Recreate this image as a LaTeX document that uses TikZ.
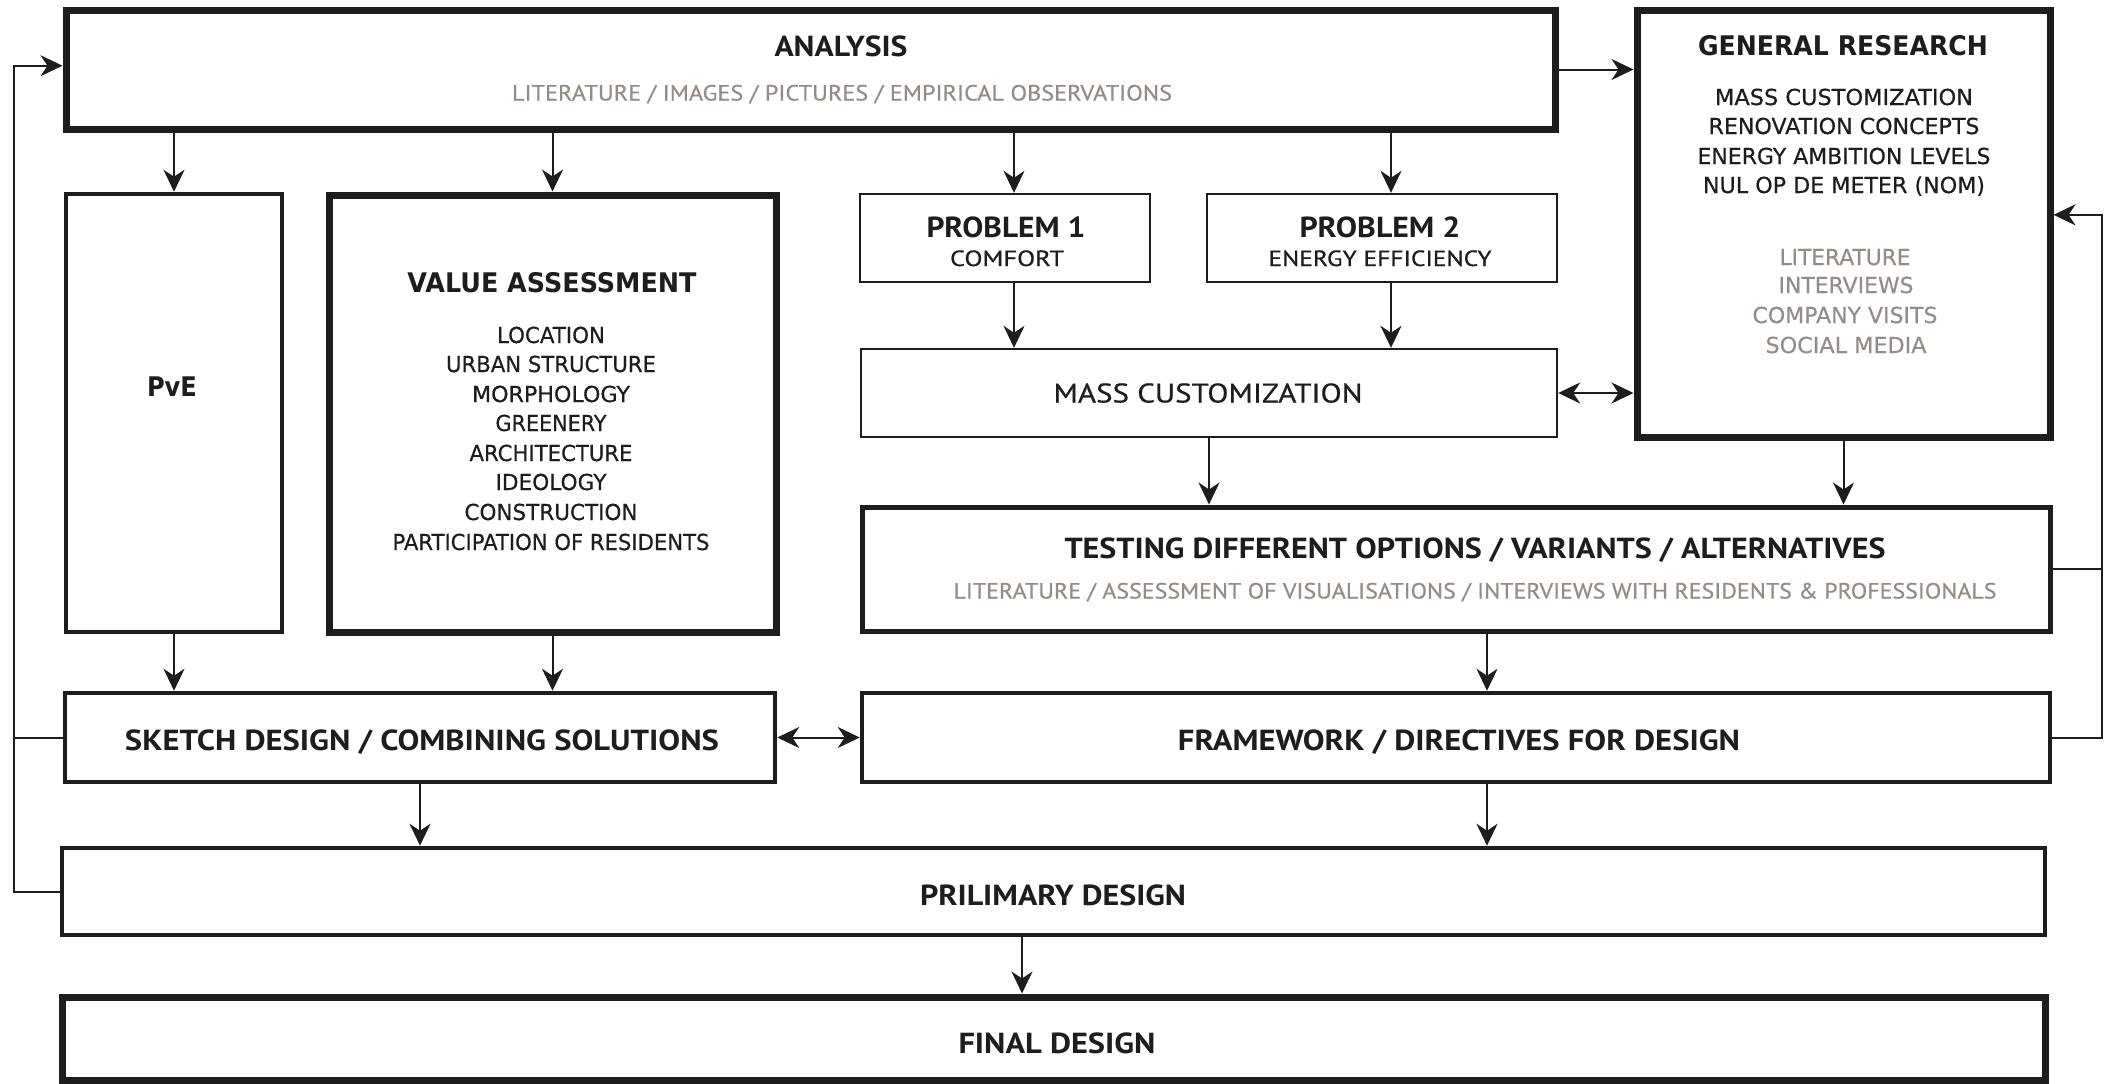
\documentclass[tikz,border=0pt]{standalone}
\usepackage{fontspec}
\usepackage{graphicx}
\usetikzlibrary{arrows.meta,calc}
\newfontfamily\myr{PT Sans}
\newfontfamily\myrn[FakeBold=0.6]{PT Sans}
\newfontfamily\dv{DejaVu Sans}
\newfontfamily\dvn[FakeBold=0.5]{DejaVu Sans}
\newcommand\fitw[2]{\resizebox{#1}{\height}{#2}}
\definecolor{ink}{RGB}{30,28,29}
\definecolor{greytx}{RGB}{150,140,135}
\tikzset{
  box/.style={draw=ink, rectangle, inner sep=0pt},
  thickbox/.style={box, line width=7pt},
  medbox/.style={box, line width=4.5pt},
  thinbox/.style={box, line width=2.4pt},
  tx/.style={inner sep=0pt, text depth=0pt, anchor=center, text=ink},
  gtx/.style={tx, text=greytx},
  myrB/.style={font=\myr\bfseries\fontsize{29}{31}\selectfont, text height=20pt},
  myrN/.style={font=\myrn\fontsize{22}{24}\selectfont, text height=15pt},
  dvB/.style={font=\dv\bfseries\fontsize{27}{30}\selectfont, text height=20pt},
  dvN/.style={font=\dvn\fontsize{22}{24}\selectfont, text height=16pt},
  tip/.tip={Stealth[length=22pt,width=21pt,inset=7pt]},
  arr/.style={draw=ink, line width=2pt, -tip},
  darr/.style={draw=ink, line width=2pt, tip-tip},
  ln/.style={draw=ink, line width=2pt},
}
\begin{document}
\begin{tikzpicture}[x=1pt,y=-1pt]
\useasboundingbox (0,0) rectangle (2104,1084);
% boxes
\node[thickbox, minimum width=1489pt, minimum height=119pt] (ana) at (810.5,69.5) {};
\node[thickbox, minimum width=413pt, minimum height=427pt] (gr) at (1843.5,223.5) {};
\node[medbox, minimum width=216pt, minimum height=438pt] (pve) at (174,413) {};
\node[thickbox, minimum width=447pt, minimum height=437pt] (val) at (552.5,413.5) {};
\node[thinbox, minimum width=290pt, minimum height=88pt] (p1) at (1005,238) {};
\node[thinbox, minimum width=350pt, minimum height=88pt] (p2) at (1382,238) {};
\node[thinbox, minimum width=696pt, minimum height=88pt] (mass) at (1209,393) {};
\node[box, line width=5pt, minimum width=1188pt, minimum height=124pt] (test) at (1456,569) {};
\node[medbox, minimum width=710pt, minimum height=89pt] (sketch) at (420,737.5) {};
\node[medbox, minimum width=1188pt, minimum height=89pt] (frame) at (1456,737.5) {};
\node[medbox, minimum width=1983pt, minimum height=87pt] (pril) at (1053.5,891.5) {};
\node[thickbox, minimum width=1983pt, minimum height=83pt] (final) at (1053.5,1038.5) {};
% texts
\node[tx, myrB] (anaT) at (841,46) {\fitw{133pt}{ANALYSIS}};
\node[gtx, myrN] (anaS) at (842,93) {\fitw{660pt}{LITERATURE / IMAGES / PICTURES / EMPIRICAL OBSERVATIONS}};
\node[tx, dvB] (grT) at (1843,45) {\fitw{290pt}{GENERAL RESEARCH}};
\node[tx, dvN] (grA) at (1844,97) {\fitw{258pt}{MASS CUSTOMIZATION}};
\node[tx, dvN] (grB) at (1844,126) {\fitw{271pt}{RENOVATION CONCEPTS}};
\node[tx, dvN] (grC) at (1844,156) {\fitw{293pt}{ENERGY AMBITION LEVELS}};
\node[tx, dvN] (grD) at (1844,185) {\fitw{282pt}{NUL OP DE METER (NOM)}};
\node[gtx, dvN] (grE) at (1845,257) {\fitw{131pt}{LITERATURE}};
\node[gtx, dvN] (grF) at (1846,285) {\fitw{135pt}{INTERVIEWS}};
\node[gtx, dvN] (grG) at (1845,315) {\fitw{185pt}{COMPANY VISITS}};
\node[gtx, dvN] (grH) at (1846,345) {\fitw{161pt}{SOCIAL MEDIA}};
\node[tx, dvB, text height=18pt] (pveT) at (172,387) {\fitw{50pt}{PvE}};
\node[tx, dvB] (valT) at (552,282) {\fitw{289pt}{VALUE ASSESSMENT}};
\node[tx, dvN] (valA) at (551,335) {\fitw{108pt}{LOCATION}};
\node[tx, dvN] (valB) at (551,364) {\fitw{210pt}{URBAN STRUCTURE}};
\node[tx, dvN] (valC) at (551,394) {\fitw{158pt}{MORPHOLOGY}};
\node[tx, dvN] (valD) at (551,423) {\fitw{111pt}{GREENERY}};
\node[tx, dvN] (valE) at (551,453) {\fitw{163pt}{ARCHITECTURE}};
\node[tx, dvN] (valF) at (551,482) {\fitw{111pt}{IDEOLOGY}};
\node[tx, dvN] (valG) at (551,512) {\fitw{173pt}{CONSTRUCTION}};
\node[tx, dvN] (valH) at (551,542) {\fitw{317pt}{PARTICIPATION OF RESIDENTS}};
\node[tx, myrB] (p1T) at (1006,227) {\fitw{159pt}{PROBLEM 1}};
\node[tx, myrN, text height=16pt] (p1S) at (1007,258) {\fitw{114pt}{COMFORT}};
\node[tx, myrB] (p2T) at (1380,227) {\fitw{161pt}{PROBLEM 2}};
\node[tx, myrN, text height=16pt] (p2S) at (1380,258) {\fitw{223pt}{ENERGY EFFICIENCY}};
\node[tx, myrN, font=\myrn\fontsize{27}{29}\selectfont, text height=19pt] (massT) at (1208,393) {\fitw{309pt}{MASS CUSTOMIZATION}};
\node[tx, myrB] (testT) at (1475,548) {\fitw{821pt}{TESTING DIFFERENT OPTIONS / VARIANTS / ALTERNATIVES}};
\node[gtx, myrN] (testS) at (1475,591) {\fitw{1043pt}{LITERATURE / ASSESSMENT OF VISUALISATIONS / INTERVIEWS WITH RESIDENTS \& PROFESSIONALS}};
\node[tx, myrB] (sketchT) at (422,740) {\fitw{594pt}{SKETCH DESIGN / COMBINING SOLUTIONS}};
\node[tx, myrB] (frameT) at (1459,740) {\fitw{562pt}{FRAMEWORK / DIRECTIVES FOR DESIGN}};
\node[tx, myrB, text height=21pt] (prilT) at (1053,895) {\fitw{266pt}{PRILIMARY DESIGN}};
\node[tx, myrB] (finalT) at (1057,1043) {\fitw{197pt}{FINAL DESIGN}};
% helper coordinates
\coordinate (c1) at (1014,0);
\coordinate (c2) at (1391,0);
\coordinate (c3) at (1487,0);
\coordinate (c4) at (1022,0);
\coordinate (lx) at (14,0);
\coordinate (rx) at (2102,0);
% connectors
\draw[arr] (ana.south -| pve.north) -- (pve.north);
\draw[arr] (ana.south -| val.north) -- (val.north);
\draw[arr] (ana.south -| c1) -- (p1.north -| c1);
\draw[arr] (ana.south -| c2) -- (p2.north -| c2);
\draw[arr] (ana.east) -- (ana.east -| gr.west);
\draw[arr] (p1.south -| c1) -- (mass.north -| c1);
\draw[arr] (p2.south -| c2) -- (mass.north -| c2);
\draw[darr] (mass.east) -- (mass.east -| gr.west);
\draw[arr] (mass.south) -- (mass.south |- test.north);
\draw[arr] (gr.south) -- (gr.south |- test.north);
\draw[arr] (test.south -| c3) -- (frame.north -| c3);
\draw[arr] (pve.south) -- (pve.south |- sketch.north);
\draw[arr] (val.south) -- (val.south |- sketch.north);
\draw[darr] (sketch.east) -- (frame.west);
\draw[arr] (sketch.south) -- (sketch.south |- pril.north);
\draw[arr] (frame.south -| c3) -- (pril.north -| c3);
\draw[arr] (pril.south -| c4) -- (final.north -| c4);
% feedback loops
\draw[ln] (sketch.west) -- (sketch.west -| lx);
\draw[arr] (pril.west) -- (pril.west -| lx) |- ($(ana.north west)!0.47!(ana.south west)$);
\draw[ln] (test.east) -- (test.east -| rx);
\draw[arr] (frame.east) -- (frame.east -| rx) |- ($(gr.north east)!0.48!(gr.south east)$);
\end{tikzpicture}
\end{document}
